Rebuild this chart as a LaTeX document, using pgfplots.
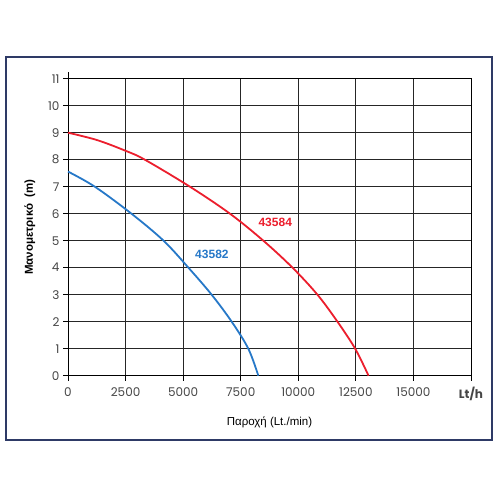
\documentclass[border=0pt]{standalone}
\usepackage{fontspec}
\setmainfont{Liberation Sans}
\newfontfamily\digitfont{Poppins}
\usepackage{pgfplots}
\pgfplotsset{compat=1.18}
\definecolor{framec}{RGB}{46,58,102}
\definecolor{redc}{RGB}{236,30,45}
\definecolor{bluec}{RGB}{38,120,200}
\definecolor{tickc}{RGB}{70,70,70}
\begin{document}
\begin{tikzpicture}[x=1pt,y=1pt]
\path[fill=white] (0,0) rectangle (500,500);
\draw[line width=2pt, framec] (6,60) rectangle (492,443.3);
\begin{axis}[
  at={(68pt,124.3pt)}, anchor=south west,
  scale only axis, width=403pt, height=297pt,
  xmin=0, xmax=17500, ymin=0, ymax=11,
  xtick={0,2500,5000,7500,10000,12500,15000,17500},
  xticklabels={0,2500,5000,7500,10000,12500,15000,\textbf{Lt/h}},
  ytick={0,1,2,3,4,5,6,7,8,9,10,11},
  scaled x ticks=false,
  xtick pos=bottom, ytick pos=left,
  tick align=outside, major tick length=5pt,
  major tick style={black, line width=1pt},
  grid=major,
  major grid style={black!85, line width=1pt},
  axis line style={black, line width=1pt},
  ticklabel style={font=\digitfont\fontsize{12}{14}\selectfont, text=tickc},
  /pgf/number format/assume math mode=true,
  xticklabel style={yshift=-3pt},
  xlabel={Παροχή (Lt./min)},
  xlabel style={font=\fontsize{11.5}{13}\selectfont, yshift=-9pt},
  ylabel={\textbf{Μανομετρικό\ \ (m)}},
  ylabel style={font=\fontsize{11.5}{13}\selectfont, yshift=6pt},
  clip=false,
]
\addplot[redc, line width=1.8pt, smooth, tension=0.55, line join=round] coordinates {
 (0,9) (1250,8.73) (2500,8.33) (3337,8) (5294,7) (7034,6) (8483,5) (9750,4) (10832,3) (11702,2) (12470,1) (13050,0)};
\addplot[bluec, line width=1.8pt, smooth, tension=0.55, line join=round] coordinates {
 (0,7.56) (1165,7) (2757,6) (4150,5) (5230,4) (6238,3) (7108,2) (7830,1) (8265,0)};
\draw[black, line width=1pt] (axis cs:0,11) -- (axis cs:0,11.25);
\node[redc, font=\bfseries\fontsize{12}{14}\selectfont] at (axis cs:9000,5.68) {43584};
\node[bluec, font=\bfseries\fontsize{12}{14}\selectfont] at (axis cs:6250,4.5) {43582};
\end{axis}
\end{tikzpicture}
\end{document}
